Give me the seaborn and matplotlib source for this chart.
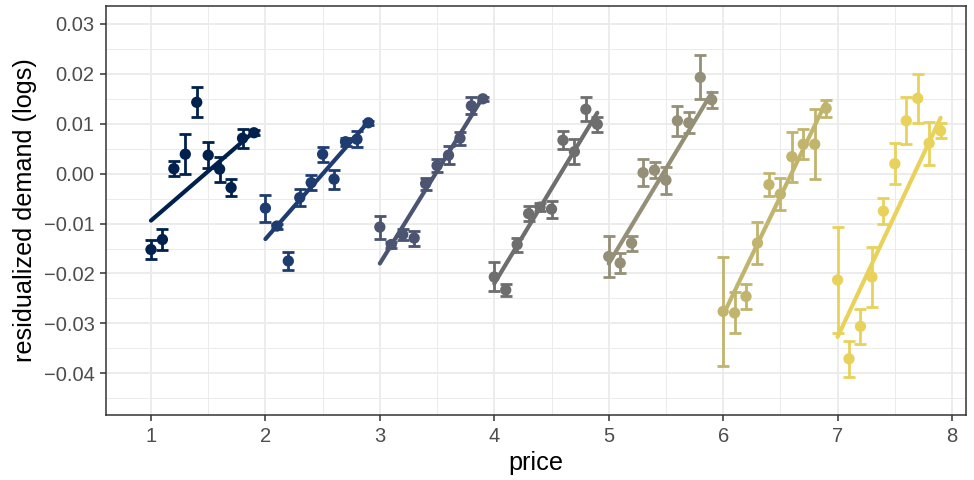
import numpy as np
import pandas as pd
import matplotlib
matplotlib.use("Agg")
import matplotlib.pyplot as plt
import seaborn as sns

# ---- data ----
group1 = [-0.0152, -0.0132, 0.0010, 0.0039, 0.0143, 0.0037, 0.0009, -0.0028, 0.0071, 0.0082]
group1_se = [0.0019, 0.0021, 0.0015, 0.0040, 0.0030, 0.0026, 0.0025, 0.0017, 0.0019, 0.0005]
group2 = [-0.0069, -0.0105, -0.0175, -0.0048, -0.0018, 0.0039, -0.0011, 0.0064, 0.0069, 0.0102]
group2_se = [0.0027, 0.0005, 0.0018, 0.0017, 0.0015, 0.0015, 0.0019, 0.0008, 0.0016, 0.0004]
group3 = [-0.0107, -0.0142, -0.0122, -0.0129, -0.0020, 0.0016, 0.0037, 0.0071, 0.0136, 0.0150]
group3_se = [0.0023, 0.0006, 0.0011, 0.0015, 0.0012, 0.0013, 0.0018, 0.0013, 0.0017, 0.0004]
group4 = [-0.0207, -0.0233, -0.0142, -0.0080, -0.0067, -0.0071, 0.0067, 0.0044, 0.0129, 0.0099]
group4_se = [0.0029, 0.0012, 0.0014, 0.0015, 0.0008, 0.0017, 0.0018, 0.0025, 0.0024, 0.0015]
group5 = [-0.0166, -0.0179, -0.0139, 0.0002, 0.0007, -0.0013, 0.0106, 0.0102, 0.0193, 0.0148]
group5_se = [0.0042, 0.0020, 0.0015, 0.0027, 0.0016, 0.0027, 0.0030, 0.0021, 0.0044, 0.0016]
group6 = [-0.0276, -0.0279, -0.0246, -0.0139, -0.0022, -0.0041, 0.0034, 0.0059, 0.0059, 0.0131]
group6_se = [0.0109, 0.0041, 0.0025, 0.0042, 0.0023, 0.0032, 0.0050, 0.0030, 0.0070, 0.0017]
group7 = [-0.0213, -0.0371, -0.0306, -0.0207, -0.0075, 0.0020, 0.0106, 0.0151, 0.0061, 0.0086]
group7_se = [0.0107, 0.0036, 0.0035, 0.0061, 0.0026, 0.0041, 0.0047, 0.0049, 0.0043, 0.0015]

# fitted demand line per group, value at first and last price of the group
fit_start = [-0.0094, -0.0131, -0.0180, -0.0220, -0.0180, -0.0283, -0.0327]
fit_end = [0.0084, 0.0104, 0.0153, 0.0122, 0.0162, 0.0144, 0.0112]

group_base = [1, 2, 3, 4, 5, 6, 7]
price_offsets = [0.0, 0.1, 0.2, 0.3, 0.4, 0.5, 0.6, 0.7, 0.8, 0.9]
colors = ["#00204D", "#1F3C71", "#4B5470", "#6E6E6E", "#958F78", "#C1B46C", "#E8D25C"]

y_ticks = [-0.04, -0.03, -0.02, -0.01, 0.00, 0.01, 0.02, 0.03]
x_ticks = [1, 2, 3, 4, 5, 6, 7, 8]

values = [group1, group2, group3, group4, group5, group6, group7]
ses = [group1_se, group2_se, group3_se, group4_se, group5_se, group6_se, group7_se]

rows = []
for g, (b, vals, se) in enumerate(zip(group_base, values, ses)):
    for off, v, s in zip(price_offsets, vals, se):
        rows.append({"group": g, "price": b + off, "demand": v, "se": s})
df = pd.DataFrame(rows)

fit_rows = []
for g, b in enumerate(group_base):
    fit_rows.append({"group": g, "price": b + price_offsets[0], "fit": fit_start[g]})
    fit_rows.append({"group": g, "price": b + price_offsets[-1], "fit": fit_end[g]})
fit = pd.DataFrame(fit_rows)

# ---- figure ----
sns.set_theme(style="white")
plt.rcParams["font.family"] = ["Liberation Sans", "DejaVu Sans"]

fig = plt.figure(figsize=(9.74, 4.8), dpi=100)
ax = fig.add_axes([106 / 974, 1 - 415 / 480, (966 - 106) / 974, (415 - 6) / 480])

for g in range(7):
    sub = df[df.group == g]
    ax.errorbar(sub.price, sub.demand, yerr=sub.se, fmt="none", ecolor=colors[g],
                elinewidth=2.0, capsize=4.2, capthick=2.0, zorder=3)

sns.scatterplot(data=df, x="price", y="demand", hue="group", palette=colors,
                s=66, linewidth=0, legend=False, ax=ax, zorder=4)

sns.lineplot(data=fit, x="price", y="fit", hue="group", palette=colors,
             linewidth=3.0, legend=False, ax=ax, zorder=5)

ax.set_xlim(0.607, 8.122)
ax.set_ylim(-0.04836, 0.0336)
ax.set_xticks(x_ticks)
ax.set_yticks(y_ticks)
ax.set_yticklabels([f"{t:.2f}".replace("-", "\u2212") for t in y_ticks])
ax.set_xticks([1.5, 2.5, 3.5, 4.5, 5.5, 6.5, 7.5], minor=True)
ax.set_yticks([-0.045, -0.035, -0.025, -0.015, -0.005, 0.005, 0.015, 0.025], minor=True)
ax.grid(True, which="major", color="#EBEBEB", linewidth=1.3, zorder=0)
ax.grid(True, which="minor", color="#EBEBEB", linewidth=0.7, zorder=0)
ax.set_axisbelow(True)
for sp in ax.spines.values():
    sp.set_color("#333333")
    sp.set_linewidth(1.1)
ax.tick_params(axis="both", which="major", length=4.3, width=1.1, color="#333333",
               labelsize=14.5, labelcolor="#4D4D4D", pad=4, bottom=True, left=True)
ax.tick_params(axis="both", which="minor", length=0)
ax.set_xlabel("price", fontsize=18.2, color="black", labelpad=4)
ax.set_ylabel("residualized demand (logs)", fontsize=18.2, color="black", labelpad=5)

fig.savefig("out.png", dpi=100)
